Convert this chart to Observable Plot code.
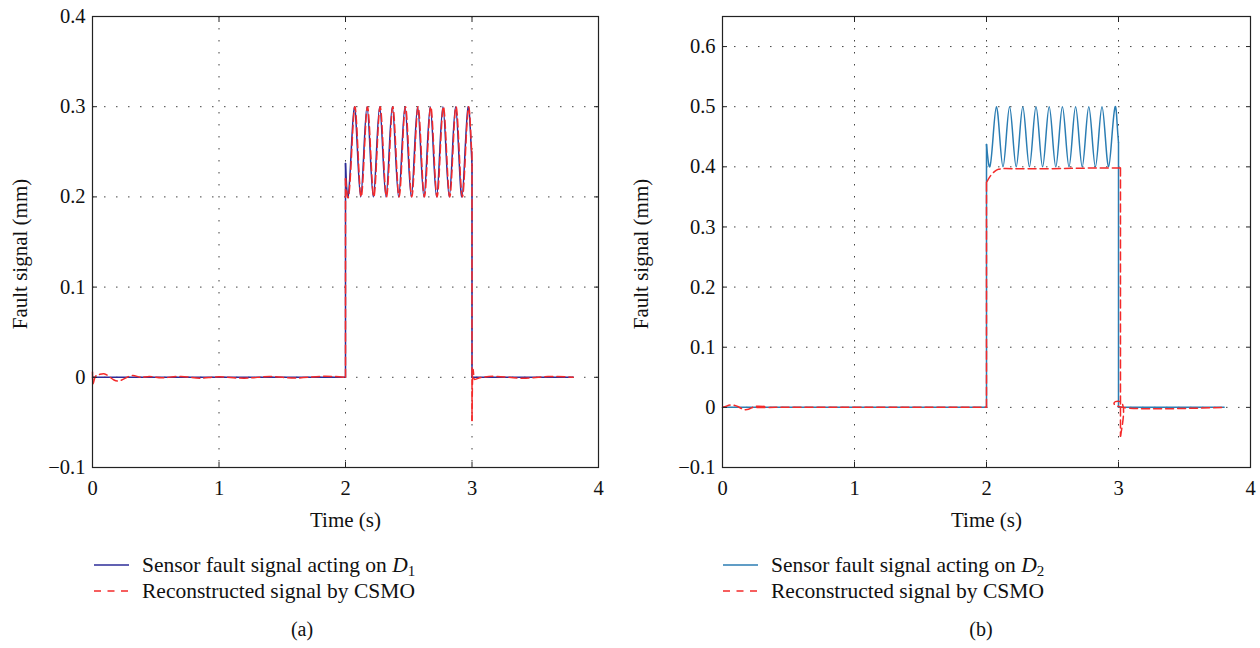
<!DOCTYPE html>
<html>
<head>
<meta charset="utf-8">
<script src="https://cdn.jsdelivr.net/npm/d3@7"></script>
<script src="https://cdn.jsdelivr.net/npm/@observablehq/plot@0.6"></script>
<style>
  html, body { margin: 0; padding: 0; background: #fff; }
  #page { position: relative; width: 1260px; height: 648px; overflow: hidden; font-family: "Liberation Serif", "DejaVu Serif", serif; color: #111; }
  .panel { position: absolute; top: 0; }
  .legend { position: absolute; font-size: 21.5px; line-height: 26px; }
  .row { display: flex; align-items: center; height: 26px; white-space: nowrap; }
  .row svg { margin-right: 13px; }
  .row sub { font-size: 15px; vertical-align: -4px; line-height: 0; }
  .cap { position: absolute; font-size: 20px; transform: translateX(-50%); }
</style>
</head>
<body>
<div id="page">
  <div id="pa" class="panel" style="left:0px"></div>
  <div id="pb" class="panel" style="left:630px"></div>
  <div id="la" class="legend" style="left:94px; top:552px"></div>
  <div id="lb" class="legend" style="left:723px; top:552px"></div>
  <div class="cap" style="left:302px; top:618px">(a)</div>
  <div class="cap" style="left:981px; top:618px">(b)</div>
</div>
<script>
// ---------- axis ticks ----------
const xTicks = [0, 1, 2, 3, 4];
const xTickLabels = ["0", "1", "2", "3", "4"];
const yTicksA = [-0.1, 0, 0.1, 0.2, 0.3, 0.4];
const yTickLabelsA = ["\u22120.1", "0", "0.1", "0.2", "0.3", "0.4"];
const yTicksB = [-0.1, 0, 0.1, 0.2, 0.3, 0.4, 0.5, 0.6];
const yTickLabelsB = ["\u22120.1", "0", "0.1", "0.2", "0.3", "0.4", "0.5", "0.6"];
const xTitle = "Time (s)";
const yTitle = "Fault signal (mm)";
const legendSensorA = "Sensor fault signal acting on <i>D</i><sub>1</sub>";
const legendSensorB = "Sensor fault signal acting on <i>D</i><sub>2</sub>";
const legendRecon = "Reconstructed signal by CSMO";

// ---------- panel (a): sensor fault signal on D1 ----------
const aSensorT = [0, 2.0, 2.0,
  2.02, 2.045, 2.07, 2.095, 2.12, 2.145, 2.17, 2.195, 2.22, 2.245, 2.27, 2.295,
  2.32, 2.345, 2.37, 2.395, 2.42, 2.445, 2.47, 2.495, 2.52, 2.545, 2.57, 2.595,
  2.62, 2.645, 2.67, 2.695, 2.72, 2.745, 2.77, 2.795, 2.82, 2.845, 2.87, 2.895,
  2.92, 2.945, 2.97, 2.99, 3.0, 3.0, 3.8];
const aSensorV = [0, 0, 0.237,
  0.2, 0.25, 0.3, 0.25, 0.2, 0.25, 0.3, 0.25, 0.2, 0.25, 0.3, 0.25,
  0.2, 0.25, 0.3, 0.25, 0.2, 0.25, 0.3, 0.25, 0.2, 0.25, 0.3, 0.25,
  0.2, 0.25, 0.3, 0.25, 0.2, 0.25, 0.3, 0.25, 0.2, 0.25, 0.3, 0.25,
  0.2, 0.25, 0.3, 0.265, 0.235, 0, 0];

// ---------- panel (a): reconstructed signal ----------
const aReconT = [0, 0.004, 0.02, 0.05, 0.09, 0.13, 0.17, 0.21, 0.26, 0.32, 0.38, 0.45,
  0.55, 0.7, 0.85, 1.0, 1.2, 1.4, 1.6, 1.8, 2.0, 2.0,
  2.024, 2.049, 2.074, 2.099, 2.124, 2.149, 2.174, 2.199, 2.224, 2.249, 2.274, 2.299,
  2.324, 2.349, 2.374, 2.399, 2.424, 2.449, 2.474, 2.499, 2.524, 2.549, 2.574, 2.599,
  2.624, 2.649, 2.674, 2.699, 2.724, 2.749, 2.774, 2.799, 2.824, 2.849, 2.874, 2.899,
  2.924, 2.949, 2.974, 2.993, 3.0, 3.0, 3.006, 3.015, 3.05, 3.2, 3.4, 3.6, 3.8];
const aReconV = [0.006, -0.007, 0, 0.003, 0.004, 0.001, -0.003, -0.004, -0.001, 0.002, 0, 0.001,
  -0.0005, 0.001, -0.001, 0.0005, -0.001, 0.0008, -0.0008, 0.001, 0, 0.22,
  0.2, 0.25, 0.3, 0.25, 0.2, 0.25, 0.3, 0.25, 0.2, 0.25, 0.3, 0.25,
  0.2, 0.25, 0.3, 0.25, 0.2, 0.25, 0.3, 0.25, 0.2, 0.25, 0.3, 0.25,
  0.2, 0.25, 0.3, 0.25, 0.2, 0.25, 0.3, 0.25, 0.2, 0.25, 0.3, 0.25,
  0.2, 0.25, 0.3, 0.262, 0.25, -0.048, 0.006, 0, -0.001, 0.001, -0.001, 0.0008, 0];

// ---------- panel (b): sensor fault signal on D2 ----------
const bSensorT = [0, 2.0, 2.0,
  2.025, 2.05, 2.075, 2.1, 2.125, 2.15, 2.175, 2.2, 2.225, 2.25, 2.275, 2.3,
  2.325, 2.35, 2.375, 2.4, 2.425, 2.45, 2.475, 2.5, 2.525, 2.55, 2.575, 2.6,
  2.625, 2.65, 2.675, 2.7, 2.725, 2.75, 2.775, 2.8, 2.825, 2.85, 2.875, 2.9,
  2.925, 2.95, 2.975, 2.99, 3.0, 3.0, 3.8];
const bSensorV = [0, 0, 0.437,
  0.4, 0.45, 0.5, 0.45, 0.4, 0.45, 0.5, 0.45, 0.4, 0.45, 0.5, 0.45,
  0.4, 0.45, 0.5, 0.45, 0.4, 0.45, 0.5, 0.45, 0.4, 0.45, 0.5, 0.45,
  0.4, 0.45, 0.5, 0.45, 0.4, 0.45, 0.5, 0.45, 0.4, 0.45, 0.5, 0.45,
  0.4, 0.45, 0.5, 0.47, 0.44, 0, 0];

// ---------- panel (b): reconstructed signal ----------
const bReconT = [0, 0.03, 0.07, 0.12, 0.17, 0.22, 0.27, 0.32, 0.4, 2.0, 2.0,
  2.03, 2.06, 2.09, 2.13, 2.2, 2.5, 2.8, 3.015, 3.015, 3.022, 3.03, 3.8];
const bReconV = [0, 0.002, 0.004, 0.001, -0.004, -0.001, 0.002, 0, 0, 0, 0.374,
  0.385, 0.392, 0.396, 0.397, 0.397, 0.397, 0.398, 0.398, -0.048, 0.008, 0, 0];

const colorA = "#2c2c98";
const colorB = "#2b7db3";
const colorRed = "#f42a2a";
const dash = "8,4";

// split a series into smooth runs and vertical jumps (repeated time stamps)
function split(ts, vs) {
  const smooth = [], jumps = [];
  let seg = 0, jseg = 0;
  smooth.push({t: ts[0], v: vs[0], seg});
  for (let i = 1; i < ts.length; i++) {
    if (ts[i] === ts[i - 1]) {
      jumps.push({t: ts[i - 1], v: vs[i - 1], seg: jseg}, {t: ts[i], v: vs[i], seg: jseg});
      jseg++;
      seg++;
      smooth.push({t: ts[i], v: vs[i], seg});
    } else {
      smooth.push({t: ts[i], v: vs[i], seg});
    }
  }
  return {smooth, jumps};
}

function seriesMarks(ts, vs, stroke, dashed) {
  const {smooth, jumps} = split(ts, vs);
  const opt = {x: "t", y: "v", z: "seg", stroke, strokeWidth: 1.5};
  if (dashed) opt.strokeDasharray = dash;
  return [
    Plot.line(smooth, {...opt, curve: "natural"}),
    Plot.line(jumps, {...opt, curve: "linear"})
  ];
}

function panel({yDomain, yTicks, yLabels, sensorT, sensorV, reconT, reconV, color, marginRight, yTitleDx}) {
  const fmtY = d => yLabels[yTicks.findIndex(t => Math.abs(t - d) < 1e-9)];
  const fmtX = d => xTickLabels[xTicks.indexOf(d)];
  const gridStyle = {stroke: "#222", strokeOpacity: 0.85, strokeWidth: 1, strokeDasharray: "1.5,10.5"};
  return Plot.plot({
    width: 630,
    height: 545,
    marginLeft: 92,
    marginRight,
    marginTop: 16,
    marginBottom: 78,
    x: {domain: [0, 4]},
    y: {domain: yDomain},
    style: {fontFamily: "Liberation Serif", fontSize: "20px", background: "#fff", color: "#111", overflow: "visible"},
    marks: [
      Plot.gridX(xTicks, gridStyle),
      Plot.gridY(yTicks, gridStyle),
      ...seriesMarks(sensorT, sensorV, color, false),
      ...seriesMarks(reconT, reconV, colorRed, true),
      Plot.frame({stroke: "#222", strokeWidth: 1.2}),
      Plot.axisX(xTicks, {anchor: "bottom", tickSize: 0, tickPadding: 13, tickFormat: fmtX, label: null, fontSize: 20.5}),
      Plot.axisY(yTicks, {anchor: "left", tickSize: 0, tickPadding: 7, tickFormat: fmtY, label: null, fontSize: 20.5}),
      Plot.axisX(xTicks, {anchor: "bottom", tickSize: -5, tickFormat: () => "", label: null, stroke: "#222"}),
      Plot.axisX(xTicks, {anchor: "top", tickSize: -5, tickFormat: () => "", label: null, stroke: "#222"}),
      Plot.axisY(yTicks, {anchor: "left", tickSize: -5, tickFormat: () => "", label: null, stroke: "#222"}),
      Plot.axisY(yTicks, {anchor: "right", tickSize: -5, tickFormat: () => "", label: null, stroke: "#222"}),
      Plot.text([xTitle], {frameAnchor: "bottom", dy: 53, text: d => d, lineAnchor: "middle", fontSize: 21, fill: "#111"}),
      Plot.text([yTitle], {frameAnchor: "left", rotate: -90, dx: yTitleDx, dy: 12, text: d => d, lineAnchor: "middle", textAnchor: "middle", fontSize: 21, fill: "#111"})
    ]
  });
}

document.getElementById("pa").append(panel({
  yDomain: [-0.1, 0.4], yTicks: yTicksA, yLabels: yTickLabelsA,
  sensorT: aSensorT, sensorV: aSensorV, reconT: aReconT, reconV: aReconV,
  color: colorA, marginRight: 32, yTitleDx: -72
}));
document.getElementById("pb").append(panel({
  yDomain: [-0.1, 0.65], yTicks: yTicksB, yLabels: yTickLabelsB,
  sensorT: bSensorT, sensorV: bSensorV, reconT: bReconT, reconV: bReconV,
  color: colorB, marginRight: 10, yTitleDx: -81
}));

function legend(el, sensorLabel, color) {
  const sample = (stroke, dashed) =>
    `<svg width="35" height="10"><line x1="0" y1="5" x2="35" y2="5" stroke="${stroke}" stroke-width="1.6"${dashed ? ' stroke-dasharray="7,6.5"' : ""}/></svg>`;
  el.innerHTML =
    `<div class="row">${sample(color, false)}<span>${sensorLabel}</span></div>` +
    `<div class="row">${sample(colorRed, true)}<span>${legendRecon}</span></div>`;
}
legend(document.getElementById("la"), legendSensorA, colorA);
legend(document.getElementById("lb"), legendSensorB, colorB);
</script>
</body>
</html>
